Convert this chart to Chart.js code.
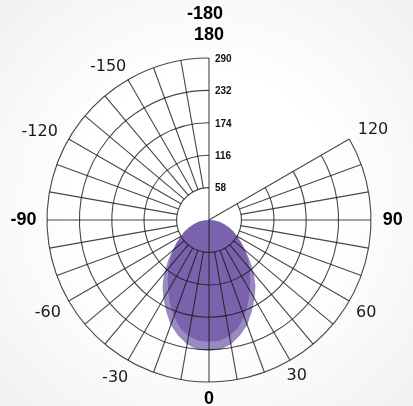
<!DOCTYPE html>
<html>
<head>
<meta charset="utf-8">
<script src="https://cdn.jsdelivr.net/npm/chart.js@4.4.1/dist/chart.umd.min.js"></script>
<style>
    html, body { margin: 0; padding: 0; }
    body {
        width: 413px;
        height: 406px;
        overflow: hidden;
        background: radial-gradient(ellipse at 50% 50%, #ffffff 45%, #f1f1f1 100%);
    }
    canvas { display: block; }
</style>
</head>
<body>
<canvas id="graficoPolar" width="413" height="406"></canvas>
<script>
// Ângulos em graus: 0 = para baixo, 90 = direita, -90 = esquerda
const angulos = [-90, -85, -80, -75, -70, -65, -60, -55, -50, -45, -40, -35, -30, -25, -20, -15, -10, -5,
    0, 5, 10, 15, 20, 25, 30, 35, 40, 45, 50, 55, 60, 65, 70, 75, 80, 85, 90];

// Intensidade (cd) - curva maior (mais clara)
const planoC0 = [0, 9, 18, 27, 36, 47, 57, 70, 86, 104, 125, 145, 163, 181, 200, 214, 226, 233,
    234, 233, 226, 214, 200, 181, 163, 145, 125, 104, 86, 70, 57, 47, 36, 27, 18, 9, 0];

// Intensidade (cd) - curva menor (mais escura por sobreposição)
const planoC90 = [0, 10, 19, 28, 38, 48, 59, 71, 84, 98, 113, 129, 146, 165, 184, 200, 211, 217,
    218, 217, 211, 200, 184, 165, 146, 129, 113, 98, 84, 71, 59, 48, 38, 28, 19, 10, 0];

const aneis = [58, 116, 174, 232, 290];
const rotulosAngulo = ['-180', '180', '-150', '-120', '-90', '-60', '-30', '0', '30', '60', '90', '120'];
const rotulosNegrito = ['-180', '180', '-90', '0', '90'];

// posição dos rótulos: [ângulo, raio em cd]
const posRotulos = {
    '-180': [-178.9, 368], '180': [180, 332], '-150': [-146.6, 328], '-120': [-117.6, 342],
    '-90': [-90, 332], '-60': [-60, 333], '-30': [-30.8, 328], '0': [0, 321],
    '30': [29.4, 320], '60': [59.4, 327], '90': [90, 329], '120': [118.8, 335]
};

const rad = g => g * Math.PI / 180;

function paraXY(valores) {
    return angulos.map((a, i) => ({
        x: valores[i] * Math.sin(rad(a)),
        y: -valores[i] * Math.cos(rad(a))
    }));
}

// Grade polar desenhada com as escalas do próprio gráfico
const gradePolar = {
    id: 'gradePolar',
    afterDatasetsDraw(chart) {
        const ctx = chart.ctx;
        const sx = chart.scales.x, sy = chart.scales.y;
        const cx = sx.getPixelForValue(0), cy = sy.getPixelForValue(0);
        const raio = v => sx.getPixelForValue(v) - cx;

        ctx.save();
        ctx.strokeStyle = 'rgba(25,25,25,0.8)';
        ctx.lineWidth = 1.1;

        // anéis de 120 até -180 passando pelo 0
        aneis.forEach(v => {
            ctx.beginPath();
            ctx.arc(cx, cy, raio(v), rad(90 - 120), rad(90 + 180));
            ctx.stroke();
        });

        const fim = raio(aneis[aneis.length - 1]);
        for (let a = -180; a <= 120; a += 10) {
            const inicio = (a === -180 || a === 120 || a === 0) ? 0 : raio(aneis[0]);
            const s = Math.sin(rad(a)), c = Math.cos(rad(a));
            ctx.beginPath();
            ctx.moveTo(cx + inicio * s, cy + inicio * c);
            ctx.lineTo(cx + fim * s, cy + fim * c);
            ctx.stroke();
        }

        // valores dos anéis
        ctx.fillStyle = '#111';
        ctx.font = 'bold 10px "Liberation Sans"';
        ctx.textAlign = 'left';
        ctx.textBaseline = 'middle';
        aneis.forEach(v => {
            ctx.fillText(String(v), cx + 6, cy - raio(v) + 1);
        });

        // rótulos dos ângulos
        ctx.textAlign = 'center';
        rotulosAngulo.forEach(t => {
            const [a, r] = posRotulos[t];
            const negrito = rotulosNegrito.includes(t);
            ctx.font = negrito ? 'bold 18px "Liberation Sans"' : '16px "DejaVu Sans"';
            ctx.fillStyle = negrito ? '#000' : '#1a1a1a';
            ctx.fillText(t, cx + raio(r) * Math.sin(rad(a)), cy + raio(r) * Math.cos(rad(a)));
        });
        ctx.restore();
    }
};

const corCurva = 'rgba(106,79,162,0.67)';

new Chart(document.getElementById('graficoPolar').getContext('2d'), {
    type: 'scatter',
    data: {
        datasets: [{
            data: paraXY(planoC0),
            showLine: true,
            fill: 'shape',
            backgroundColor: corCurva,
            borderColor: 'rgba(0,0,0,0)',
            pointRadius: 0
        }, {
            data: paraXY(planoC90),
            showLine: true,
            fill: 'shape',
            backgroundColor: corCurva,
            borderColor: 'rgba(0,0,0,0)',
            pointRadius: 0
        }]
    },
    options: {
        responsive: false,
        animation: false,
        devicePixelRatio: 1,
        layout: { padding: { left: 47, right: 42, top: 58, bottom: 24 } },
        scales: {
            x: { type: 'linear', min: -290, max: 290, display: false },
            y: { type: 'linear', min: -290, max: 290, display: false }
        },
        plugins: {
            legend: { display: false },
            tooltip: { enabled: false }
        }
    },
    plugins: [gradePolar]
});
</script>
</body>
</html>
